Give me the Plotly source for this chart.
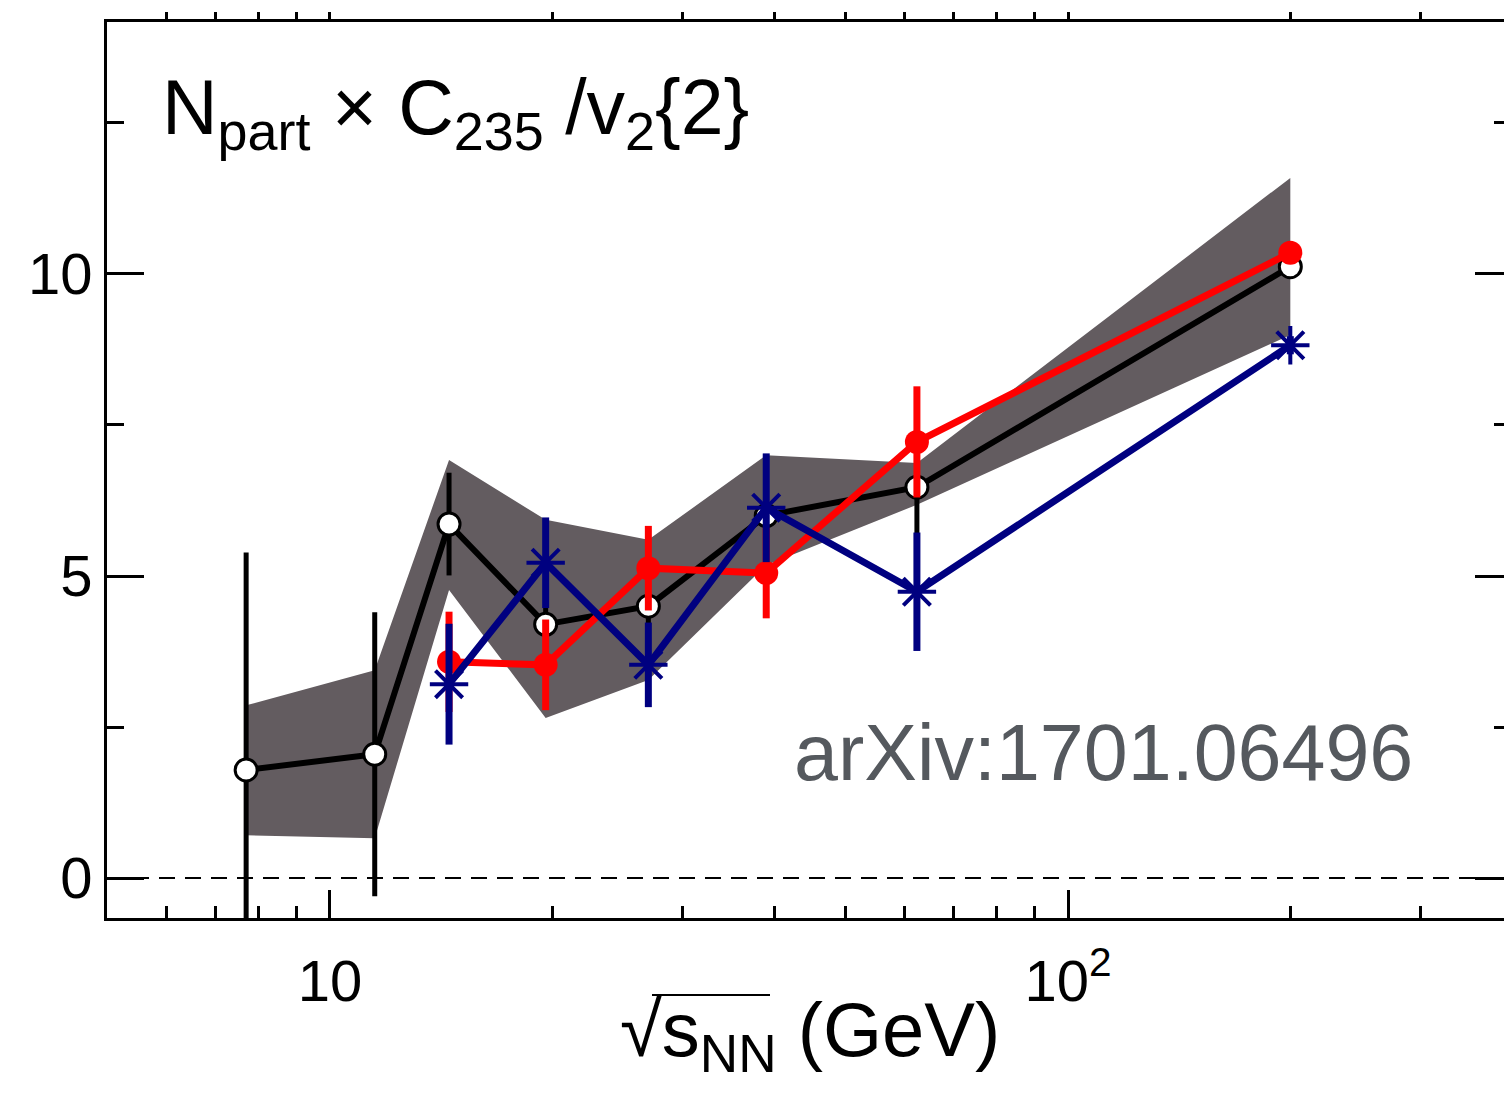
import plotly.graph_objects as go

# ---- data ----
energy = [7.7, 11.5, 14.5, 19.6, 27, 39, 62.4, 200]

black_y = [1.79, 2.05, 5.86, 4.20, 4.50, 6.00, 6.47, 10.12]
black_err = [3.6, 2.35, 0.85, 0.5, 0.5, 0.6, 0.8, 0.2]
band_hi = [2.86, 3.44, 6.92, 5.93, 5.60, 7.00, 6.87, 11.59]
band_lo = [0.71, 0.66, 4.77, 2.65, 3.28, 5.18, 6.18, 8.99]

red_x = [14.5, 19.6, 27, 39, 62.4, 200]
red_y = [3.58, 3.53, 5.13, 5.05, 7.22, 10.35]
red_err = [0.83, 0.75, 0.7, 0.75, 0.92, 0.15]

blue_x = [14.5, 19.6, 27, 39, 62.4, 200]
blue_y = [3.21, 5.22, 3.53, 6.13, 4.74, 8.82]
blue_err = [1.0, 0.75, 0.7, 0.9, 0.98, 0.15]

x_major = [10, 100]
x_major_text = ["10", "10<sup>2</sup>"]
x_minor = [6, 7, 8, 9, 20, 30, 40, 50, 60, 70, 80, 90, 200, 300]
y_major = [0, 5, 10]
y_minor = [2.5, 7.5, 12.5]

XR = [0.698, 2.600]
YR = [-0.66, 14.17]

BLACK = "#000000"
RED = "#ff0000"
BLUE = "#000080"
BAND = "rgb(99,92,96)"
FONT = "Liberation Sans, Arial, sans-serif"

# page body has an 8px margin: figure coordinates = screen - 8
W, H = 1504, 1080
L, R, T, B = 99, 1, 14, 170
PW = W - L - R
PH = H - T - B


def px(xs):  # screen x -> paper
    return (xs - 8 - L) / PW


def py(ys):  # screen y -> paper
    return (H - B - (ys - 8)) / PH


fig = go.Figure()

# systematic band
fig.add_trace(go.Scatter(x=energy + energy[::-1], y=band_hi + band_lo[::-1],
                         fill="toself", fillcolor=BAND, line=dict(width=0),
                         mode="lines", hoverinfo="skip", showlegend=False))

# black series
fig.add_trace(go.Scatter(x=energy, y=black_y, mode="lines+markers",
                         line=dict(color=BLACK, width=6),
                         marker=dict(symbol="circle", size=22, color="white",
                                     line=dict(color=BLACK, width=3)),
                         error_y=dict(type="data", array=black_err, color=BLACK,
                                      thickness=5, width=0),
                         showlegend=False))

# red series
fig.add_trace(go.Scatter(x=red_x, y=red_y, mode="lines+markers",
                         line=dict(color=RED, width=7),
                         marker=dict(symbol="circle", size=24, color=RED),
                         error_y=dict(type="data", array=red_err, color=RED,
                                      thickness=7, width=0),
                         showlegend=False))

# blue series
fig.add_trace(go.Scatter(x=blue_x, y=blue_y, mode="lines+markers",
                         line=dict(color=BLUE, width=7),
                         marker=dict(symbol="asterisk-open", size=32, color=BLUE,
                                     line=dict(color=BLUE, width=4)),
                         error_y=dict(type="data", array=blue_err, color=BLUE,
                                      thickness=7, width=0),
                         showlegend=False))

# helper invisible trace for the mirror axes
fig.add_trace(go.Scatter(x=energy, y=black_y, xaxis="x2", yaxis="y2",
                         mode="markers", marker=dict(opacity=0),
                         hoverinfo="skip", showlegend=False))

fig.update_layout(
    width=W, height=H,
    margin=dict(l=L, r=R, t=T, b=B),
    paper_bgcolor="white", plot_bgcolor="white",
    font=dict(family=FONT, color="black"),
    xaxis=dict(type="log", range=XR, showgrid=False, zeroline=False,
               showline=True, linecolor=BLACK, linewidth=3,
               ticks="inside", ticklen=28, tickwidth=3, tickcolor=BLACK,
               tickvals=x_major, ticktext=x_major_text,
               tickfont=dict(size=58, family=FONT), ticklabelstandoff=10,
               minor=dict(tickvals=x_minor, ticks="inside", ticklen=12,
                          tickwidth=3, tickcolor=BLACK, showgrid=False)),
    yaxis=dict(range=YR, showgrid=False, zeroline=False,
               showline=True, linecolor=BLACK, linewidth=3,
               ticks="inside", ticklen=37, tickwidth=3, tickcolor=BLACK,
               tickvals=y_major, ticktext=[str(v) for v in y_major],
               tickfont=dict(size=58, family=FONT), ticklabelstandoff=0,
               minor=dict(tickvals=y_minor, ticks="inside", ticklen=17,
                          tickwidth=3, tickcolor=BLACK, showgrid=False)),
    xaxis2=dict(type="log", range=XR, overlaying="x", side="top",
                showgrid=False, zeroline=False, showline=True,
                linecolor=BLACK, linewidth=3, ticks="outside", ticklen=7,
                tickwidth=3, tickcolor=BLACK, tickvals=x_major,
                showticklabels=False,
                minor=dict(tickvals=x_minor, ticks="outside", ticklen=7,
                           tickwidth=3, tickcolor=BLACK, showgrid=False)),
    yaxis2=dict(range=YR, overlaying="y", side="right", anchor="x",
                showgrid=False, zeroline=False, showline=True,
                linecolor=BLACK, linewidth=3, ticks="inside", ticklen=36,
                tickwidth=3, tickcolor=BLACK, tickvals=y_major,
                showticklabels=False,
                minor=dict(tickvals=y_minor, ticks="inside", ticklen=17,
                           tickwidth=3, tickcolor=BLACK, showgrid=False)),
)

# dashed zero line
fig.add_shape(type="line", xref="paper", x0=0, x1=1, yref="y", y0=0, y1=0,
              line=dict(color=BLACK, width=2, dash="16px,10px"), layer="below")

# panel label
fig.add_annotation(xref="paper", yref="paper", x=px(160), y=py(62),
                   xanchor="left", yanchor="top", showarrow=False,
                   text="N<sub>part</sub> × C<sub>235</sub> /v<sub>2</sub>{2}",
                   font=dict(size=77, family=FONT, color=BLACK))

# arXiv watermark
fig.add_annotation(xref="paper", yref="paper", x=px(792), y=py(752),
                   xanchor="left", yanchor="middle", showarrow=False,
                   text="arXiv:1701.06496",
                   font=dict(size=79, family=FONT, color="rgb(85,89,94)"))

# x-axis title
fig.add_annotation(xref="paper", yref="paper", x=px(810),
                   y=py(1035), xanchor="center", yanchor="middle",
                   showarrow=False,
                   text="√s<sub>NN</sub> (GeV)",
                   font=dict(size=76, family=FONT, color=BLACK))
fig.add_shape(type="line", xref="paper", yref="paper",
              x0=px(652), x1=px(770), y0=py(995), y1=py(995),
              line=dict(color=BLACK, width=2))

fig.write_html("out.html")
